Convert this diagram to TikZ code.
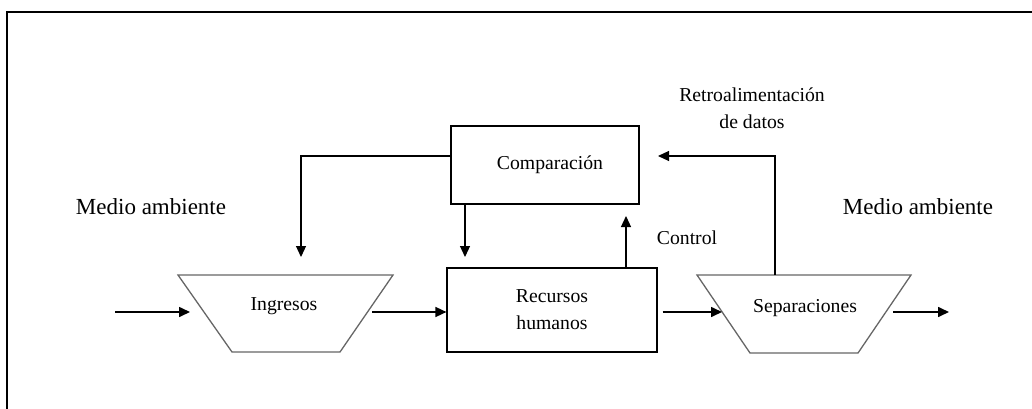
\documentclass[tikz,border=0pt]{standalone}
\usepackage{fontspec}
\setmainfont{Liberation Serif}
\usetikzlibrary{arrows.meta}
\begin{document}
\begin{tikzpicture}[x=1pt,y=-1pt,
  txt/.style={font=\fontsize{19.7}{27}\selectfont, align=center, inner sep=0pt},
  bigtxt/.style={font=\fontsize{23}{27}\selectfont, inner sep=0pt},
  box/.style={draw=black, line width=1.2pt, rectangle, inner sep=0pt, font=\fontsize{19.7}{27}\selectfont, align=center},
  trapline/.style={draw=black!60, line width=1.3pt, line join=miter},
  flow/.style={line width=1.6pt, -{Triangle[length=11pt,width=10pt]}},
  fb/.style={line width=1.2pt, -{Triangle[length=11pt,width=10pt]}}
]
\useasboundingbox (0,0) rectangle (1032,409);
\draw[line width=2pt] (7,409) -- (7,12) -- (1032,12);

% boxes
\node[box, minimum width=188pt, minimum height=78pt] (comp) at (545,165) {\hspace{10pt}Comparación};
\node[box, minimum width=210pt, minimum height=84pt] (rh) at (552,310) {Recursos\\humanos};

% trapezoids
\draw[trapline] (178,275) -- (393,275) -- (340,352) -- (232,352) -- cycle;
\draw[trapline] (697,275) -- (911,275) -- (858,353) -- (750,353) -- cycle;
\node[txt] (ing) at (284,306) {Ingresos};
\node[txt] (sep) at (805,308) {Separaciones};
\coordinate (ingL) at (204,312);
\coordinate (ingR) at (367,312);
\coordinate (sepL) at (722,312);
\coordinate (sepR) at (885,312);
\coordinate (sepT) at (775,275);

% labels
\node[bigtxt] (ma1) at (151,207) {Medio ambiente};
\node[bigtxt] (ma2) at (918,207) {Medio ambiente};
\node[txt] (ctl) at (687,238) {Control};
\node[txt] (retro) at (752,108) {Retroalimentación\\de datos};

% free ends
\coordinate (inL) at (115,312);
\coordinate (outR) at (949,312);
\coordinate (ingin) at (301,257);
\coordinate (rhin) at (465,257);
\coordinate (ctlend) at (626,216);
\coordinate (fbx) at (775,156);
\coordinate (fbend) at (658,156);

% flow arrows
\draw[flow] (inL) -- ([xshift=-14pt]ingL);
\draw[flow] ([xshift=5pt]ingR) -- (rh.west |- inL);
\draw[flow] ([xshift=5pt]rh.east |- inL) -- (sepL);
\draw[flow] ([xshift=8pt]sepR) -- (outR);

% control loops
\draw[fb] ([yshift=9pt]comp.west) -| (ingin);
\draw[fb] (comp.south -| rhin) -- (rhin);
\draw[fb] (rh.north -| ctlend) -- (ctlend);
\draw[fb] (sepT) -- (fbx) -- (fbend);
\end{tikzpicture}
\end{document}
